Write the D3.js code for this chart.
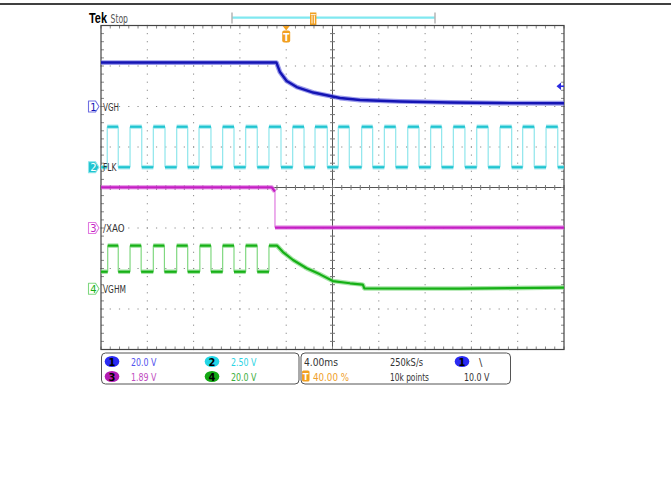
<!DOCTYPE html>
<html><head><meta charset="utf-8">
<script src="https://cdn.jsdelivr.net/npm/d3@7"></script>
<style>body{margin:0;background:#fff;} svg{display:block;}</style>
</head><body>
<svg id="c" width="671" height="499"></svg>
<script>
// ---------------- DATA ----------------
const timeDomainMs = [-16, 24];               // 4.00 ms/div, trigger at 40 %
const divisionRange = [-4, 4];                // 8 vertical divisions
const channelNames = ["VGH", "FLK", "/XAO", "VGHM"];
const voltsPerDiv = [20.0, 2.50, 1.89, 20.0];
const groundDiv = [2.0, 0.5, -1.0, -2.5];     // ground markers, divisions from centre
const scaleLabels = ["20.0 V", "2.50 V", "1.89 V", "20.0 V"];
const timebaseLabels = ["4.00ms", "250kS/s", "40.00 %", "10k points", "10.0 V"];
const triggerLevelV = 10.0;

// CH1 VGH
const vghTime  = [-16, -0.84, -0.54, 0.04, 0.91, 2.34, 4.65, 6.38, 9.83, 14.15, 18.5, 24];
const vghVolts = [21.7, 21.7, 17.0, 12.6, 9.6, 6.9, 4.2, 3.2, 2.5, 2.0, 1.7, 1.6];

// CH2 FLK (square wave edges, ms)
const flkLevels = [0.0, 2.5];
const flkRiseMs = [-15.46, -13.49, -11.48, -9.46, -7.53, -5.49, -3.50, -1.49, 0.56, 2.49,
                   4.50, 6.52, 8.48, 10.50, 12.48, 14.44, 16.46, 18.47, 20.43, 22.45];
const flkFallMs = [-14.51, -12.48, -10.47, -8.51, -6.50, -4.51, -2.50, -0.45, 1.54, 3.55,
                   5.45, 7.47, 9.46, 11.47, 13.43, 15.44, 17.45, 19.48, 21.43, 23.46];

// CH3 /XAO
const xaoTime  = [-16, -1.25, -0.97, -0.97, 24];
const xaoVolts = [1.90, 1.90, 1.70, 0.02, 0.02];

// CH4 VGHM
const vghmLevels = [8.4, 21.3];
const vghmRiseMs = [-15.42, -13.49, -11.48, -9.46, -7.46, -5.49, -3.50, -1.49];
const vghmFallMs = [-14.51, -12.53, -10.52, -8.51, -6.50, -4.51, -2.50];
const vghmTailTime  = [-0.80, -0.28, 0.59, 1.77, 2.92, 4.03, 5.51, 6.38, 6.62, 6.75, 15.0, 24.0];
const vghmTailVolts = [21.3, 18.1, 14.2, 10.1, 7.1, 3.8, 2.7, 2.2, 2.0, 0.2, 0.1, 0.6];

// ---------------- STYLE ----------------
const core  = ["#1414b4", "#20c4d0", "#c41ec4", "#16b016"];
const light = ["#7070e2", "#8ee6ec", "#e07ae0", "#80d880"];
const textCol = ["#5252ee", "#2cd4e4", "#c04ec0", "#3cae3c"];
const badgeCol = ["#2a2af2", "#22d6e6", "#b31cb3", "#14a814"];
const FONT = "'Liberation Sans Narrow','DejaVu Sans Condensed','Roboto Condensed','Liberation Sans',sans-serif";

const svg = d3.select("#c");
const plot = {l: 101, r: 564, t: 25.5, b: 349.5};
const x = d3.scaleLinear().domain(timeDomainMs).range([plot.l, plot.r]);
const yd = d3.scaleLinear().domain(divisionRange).range([plot.b, plot.t]);
const yv = (ch, v) => yd(groundDiv[ch] + v / voltsPerDiv[ch]);
const fit = (sel, len) => sel.attr("textLength", len).attr("lengthAdjust", "spacingAndGlyphs");

// ---------------- HEADER ----------------
svg.append("line").attr("x1", 0).attr("x2", 671).attr("y1", 4).attr("y2", 4)
  .attr("stroke", "#000").attr("stroke-width", 1.6);
fit(svg.append("text").attr("x", 89).attr("y", 23).text("Tek")
  .attr("font-family", "'Liberation Sans',Arial,sans-serif").attr("font-weight", "bold")
  .attr("font-size", 14).attr("fill", "#000"), 18);
fit(svg.append("text").attr("x", 110.5).attr("y", 23).text("Stop")
  .attr("font-family", FONT).attr("font-size", 13).attr("fill", "#555"), 17.5);
// record bar
svg.append("line").attr("x1", 232).attr("x2", 435).attr("y1", 17.7).attr("y2", 17.7)
  .attr("stroke", "#80e8f0").attr("stroke-width", 2.2);
[232, 435].forEach(px => svg.append("line").attr("x1", px).attr("x2", px)
  .attr("y1", 12.5).attr("y2", 23.5).attr("stroke", "#b4b4b4").attr("stroke-width", 1.5));
const barTrig = 232 + (435 - 232) * (x(0) - plot.l) / (plot.r - plot.l);
svg.append("rect").attr("x", barTrig - 3.2).attr("y", 12.5).attr("width", 6.4).attr("height", 12.5)
  .attr("fill", "#f2a020");
svg.append("path").attr("d", `M${barTrig-1.2},15.5V23.5M${barTrig+1.2},15.5V23.5M${barTrig-2.5},14.6H${barTrig+2.5}`)
  .attr("stroke", "#fff").attr("stroke-width", 0.9).attr("fill", "none");

// ---------------- GRATICULE ----------------
const g = svg.append("g");
const majX = d3.range(timeDomainMs[0], timeDomainMs[1] + 0.01, 4);
const minX = d3.range(timeDomainMs[0], timeDomainMs[1] + 0.01, 0.8);
const majY = d3.range(divisionRange[0], divisionRange[1] + 0.01, 1);
const minY = d3.range(divisionRange[0], divisionRange[1] + 0.01, 0.2);
const cx = x(4), cy = yd(0);
majX.slice(1, -1).forEach(t => {
  if (Math.abs(t - 4) < 1e-6) return;
  minY.forEach(d => g.append("rect").attr("x", x(t) - 0.5).attr("y", yd(d) - 0.6)
    .attr("width", 1).attr("height", 1.2).attr("fill", "#8a8a8a"));
});
majY.slice(1, -1).forEach(d => {
  if (Math.abs(d) < 1e-6) return;
  minX.forEach(t => g.append("rect").attr("x", x(t) - 0.6).attr("y", yd(d) - 0.5)
    .attr("width", 1.2).attr("height", 1).attr("fill", "#8a8a8a"));
});
g.append("line").attr("x1", cx).attr("x2", cx).attr("y1", plot.t).attr("y2", plot.b)
  .attr("stroke", "#555").attr("stroke-width", 1);
g.append("line").attr("x1", plot.l).attr("x2", plot.r).attr("y1", cy).attr("y2", cy)
  .attr("stroke", "#555").attr("stroke-width", 1);
minY.forEach(d => g.append("line").attr("x1", cx - 2.5).attr("x2", cx + 2.5)
  .attr("y1", yd(d)).attr("y2", yd(d)).attr("stroke", "#777").attr("stroke-width", 1));
minX.forEach(t => g.append("line").attr("x1", x(t)).attr("x2", x(t))
  .attr("y1", cy - 2.5).attr("y2", cy + 2.5).attr("stroke", "#777").attr("stroke-width", 1));
minX.forEach(t => {
  g.append("line").attr("x1", x(t)).attr("x2", x(t)).attr("y1", plot.t).attr("y2", plot.t + 3)
    .attr("stroke", "#888");
  g.append("line").attr("x1", x(t)).attr("x2", x(t)).attr("y1", plot.b).attr("y2", plot.b - 3)
    .attr("stroke", "#888");
});
minY.forEach(d => {
  g.append("line").attr("x1", plot.l).attr("x2", plot.l + 3).attr("y1", yd(d)).attr("y2", yd(d))
    .attr("stroke", "#888");
  g.append("line").attr("x1", plot.r).attr("x2", plot.r - 3).attr("y1", yd(d)).attr("y2", yd(d))
    .attr("stroke", "#888");
});
g.append("rect").attr("x", plot.l).attr("y", plot.t).attr("width", plot.r - plot.l)
  .attr("height", plot.b - plot.t).attr("fill", "none").attr("stroke", "#444").attr("stroke-width", 1.2);

// ---------------- TRACES ----------------
const line = d3.line().x(p => x(p[0])).y(p => p[1]);
const traces = svg.append("g");

function squareSegments(ch, rises, falls, levels, tStart, tEnd) {
  const edges = rises.map(t => [t, 1]).concat(falls.map(t => [t, 0])).sort((a, b) => a[0] - b[0]);
  const segs = [], edgeLines = [];
  let cur = 0, t0 = tStart;
  edges.forEach(([t, lv]) => {
    segs.push([[t0, yv(ch, levels[cur])], [t, yv(ch, levels[cur])]]);
    edgeLines.push([[t, yv(ch, levels[cur])], [t, yv(ch, levels[lv])]]);
    cur = lv; t0 = t;
  });
  segs.push([[t0, yv(ch, levels[cur])], [tEnd, yv(ch, levels[cur])]]);
  return {segs, edgeLines};
}
function drawNoisy(ch, pts, w) {
  traces.append("path").attr("d", line(pts)).attr("fill", "none")
    .attr("stroke", light[ch]).attr("stroke-width", w + 2.4).attr("stroke-opacity", 0.7)
    .attr("stroke-linejoin", "round");
  traces.append("path").attr("d", line(pts)).attr("fill", "none")
    .attr("stroke", core[ch]).attr("stroke-width", w).attr("stroke-linejoin", "round");
}
function drawEdge(ch, pts) {
  traces.append("path").attr("d", line(pts)).attr("fill", "none")
    .attr("stroke", light[ch]).attr("stroke-width", 1.2);
}

// CH4 VGHM
{
  const sq = squareSegments(3, vghmRiseMs, vghmFallMs, vghmLevels, timeDomainMs[0], vghmTailTime[0]);
  sq.edgeLines.forEach(e => drawEdge(3, e));
  const last = sq.segs.pop();
  sq.segs.forEach(s => drawNoisy(3, s, 2.2));
  const tail = last.concat(vghmTailTime.map((t, i) => [t, yv(3, vghmTailVolts[i])]));
  drawNoisy(3, tail, 2.2);
}
// CH3 /XAO
{
  const pts = xaoTime.map((t, i) => [t, yv(2, xaoVolts[i])]);
  drawEdge(2, pts.slice(2, 4));
  drawNoisy(2, pts.slice(0, 3), 2.2);
  drawNoisy(2, pts.slice(3), 2.2);
}
// CH2 FLK
{
  const sq = squareSegments(1, flkRiseMs, flkFallMs, flkLevels, timeDomainMs[0], timeDomainMs[1]);
  sq.edgeLines.forEach(e => drawEdge(1, e));
  sq.segs.forEach(s => drawNoisy(1, s, 2.2));
}
// CH1 VGH
drawNoisy(0, vghTime.map((t, i) => [t, yv(0, vghVolts[i])]), 2.4);

// ---------------- MARKERS ----------------
{
  const tx = x(0);
  svg.append("path").attr("d", `M${tx-3.5},26H${tx+3.5}L${tx},30.5Z`).attr("fill", "#f2a020");
  svg.append("rect").attr("x", tx - 4).attr("y", 30.5).attr("width", 8).attr("height", 12)
    .attr("rx", 2).attr("fill", "#f2a020");
  svg.append("text").attr("x", tx).attr("y", 40.5).attr("text-anchor", "middle").text("T")
    .attr("font-family", FONT).attr("font-size", 10).attr("font-weight", "bold").attr("fill", "#fff");
}
{
  const ty = yv(0, triggerLevelV);
  svg.append("path").attr("d", `M556.5,${ty}L561,${ty-3.8}V${ty+3.8}Z`).attr("fill", "#2a2ae0");
  svg.append("line").attr("x1", 560).attr("x2", 564).attr("y1", ty).attr("y2", ty)
    .attr("stroke", "#2a2ae0").attr("stroke-width", 1.6);
}
const labelWidths = [16, 13.5, 21.5, 23];
channelNames.forEach((name, ch) => {
  const gy = yd(groundDiv[ch]);
  const filled = ch === 1;
  svg.append("path").attr("d", `M88.5,${gy-5.5}H95.5L99,${gy}L95.5,${gy+5.5}H88.5Z`)
    .attr("fill", filled ? core[ch] : "#fff").attr("stroke", light[ch])
    .attr("stroke-width", 1.1).attr("stroke-linejoin", "round");
  svg.append("text").attr("x", 93.3).attr("y", gy + 4).attr("text-anchor", "middle").text(ch + 1)
    .attr("font-family", FONT).attr("font-size", 11).attr("fill", filled ? "#fff" : core[ch]);
  fit(svg.append("text").attr("x", 103).attr("y", gy + 4).text(name)
    .attr("font-family", FONT).attr("font-size", 10.5).attr("fill", "#333"), labelWidths[ch]);
});

// ---------------- INFO BOXES ----------------
const info = svg.append("g").attr("font-family", FONT).attr("font-size", 11);
info.append("rect").attr("x", 101.5).attr("y", 353).attr("width", 197.5).attr("height", 31)
  .attr("rx", 4).attr("fill", "#fff").attr("stroke", "#555").attr("stroke-width", 1);
info.append("rect").attr("x", 301).attr("y", 353).attr("width", 209.5).attr("height", 31)
  .attr("rx", 4).attr("fill", "#fff").attr("stroke", "#555").attr("stroke-width", 1);
const badgePos = [[112, 361.5], [212, 361.5], [112, 376.5], [212, 376.5]];
scaleLabels.forEach((lab, ch) => {
  const [bx, by] = badgePos[ch];
  info.append("ellipse").attr("cx", bx).attr("cy", by).attr("rx", 7.3).attr("ry", 5.6).attr("fill", badgeCol[ch]);
  info.append("text").attr("x", bx).attr("y", by + 4).attr("text-anchor", "middle").text(ch + 1)
    .attr("font-size", 11).attr("font-weight", "bold").attr("fill", "#000");
  fit(info.append("text").attr("x", bx + 19).attr("y", by + 4).text(lab).attr("fill", textCol[ch]), 25.5);
});
fit(info.append("text").attr("x", 304).attr("y", 365.5).text(timebaseLabels[0]).attr("fill", "#333"), 34);
fit(info.append("text").attr("x", 390).attr("y", 365.5).text(timebaseLabels[1]).attr("fill", "#333"), 33);
info.append("ellipse").attr("cx", 462).attr("cy", 361.5).attr("rx", 7.3).attr("ry", 5.6).attr("fill", badgeCol[0]);
info.append("text").attr("x", 462).attr("y", 365.5).attr("text-anchor", "middle").text("1")
  .attr("font-weight", "bold").attr("fill", "#000");
info.append("text").attr("x", 479).attr("y", 365.5).text("\\").attr("fill", "#333");
info.append("rect").attr("x", 302).attr("y", 370.5).attr("width", 7.5).attr("height", 11).attr("rx", 1.5).attr("fill", "#f2a020");
info.append("text").attr("x", 305.7).attr("y", 379.5).attr("text-anchor", "middle").text("T")
  .attr("font-size", 9.5).attr("font-weight", "bold").attr("fill", "#fff");
fit(info.append("text").attr("x", 313).attr("y", 380.5).text(timebaseLabels[2]).attr("fill", "#f0a02a"), 36);
fit(info.append("text").attr("x", 390).attr("y", 380.5).text(timebaseLabels[3]).attr("fill", "#333"), 39);
fit(info.append("text").attr("x", 464).attr("y", 380.5).text(timebaseLabels[4]).attr("fill", "#333"), 25.5);
</script>
</body></html>
